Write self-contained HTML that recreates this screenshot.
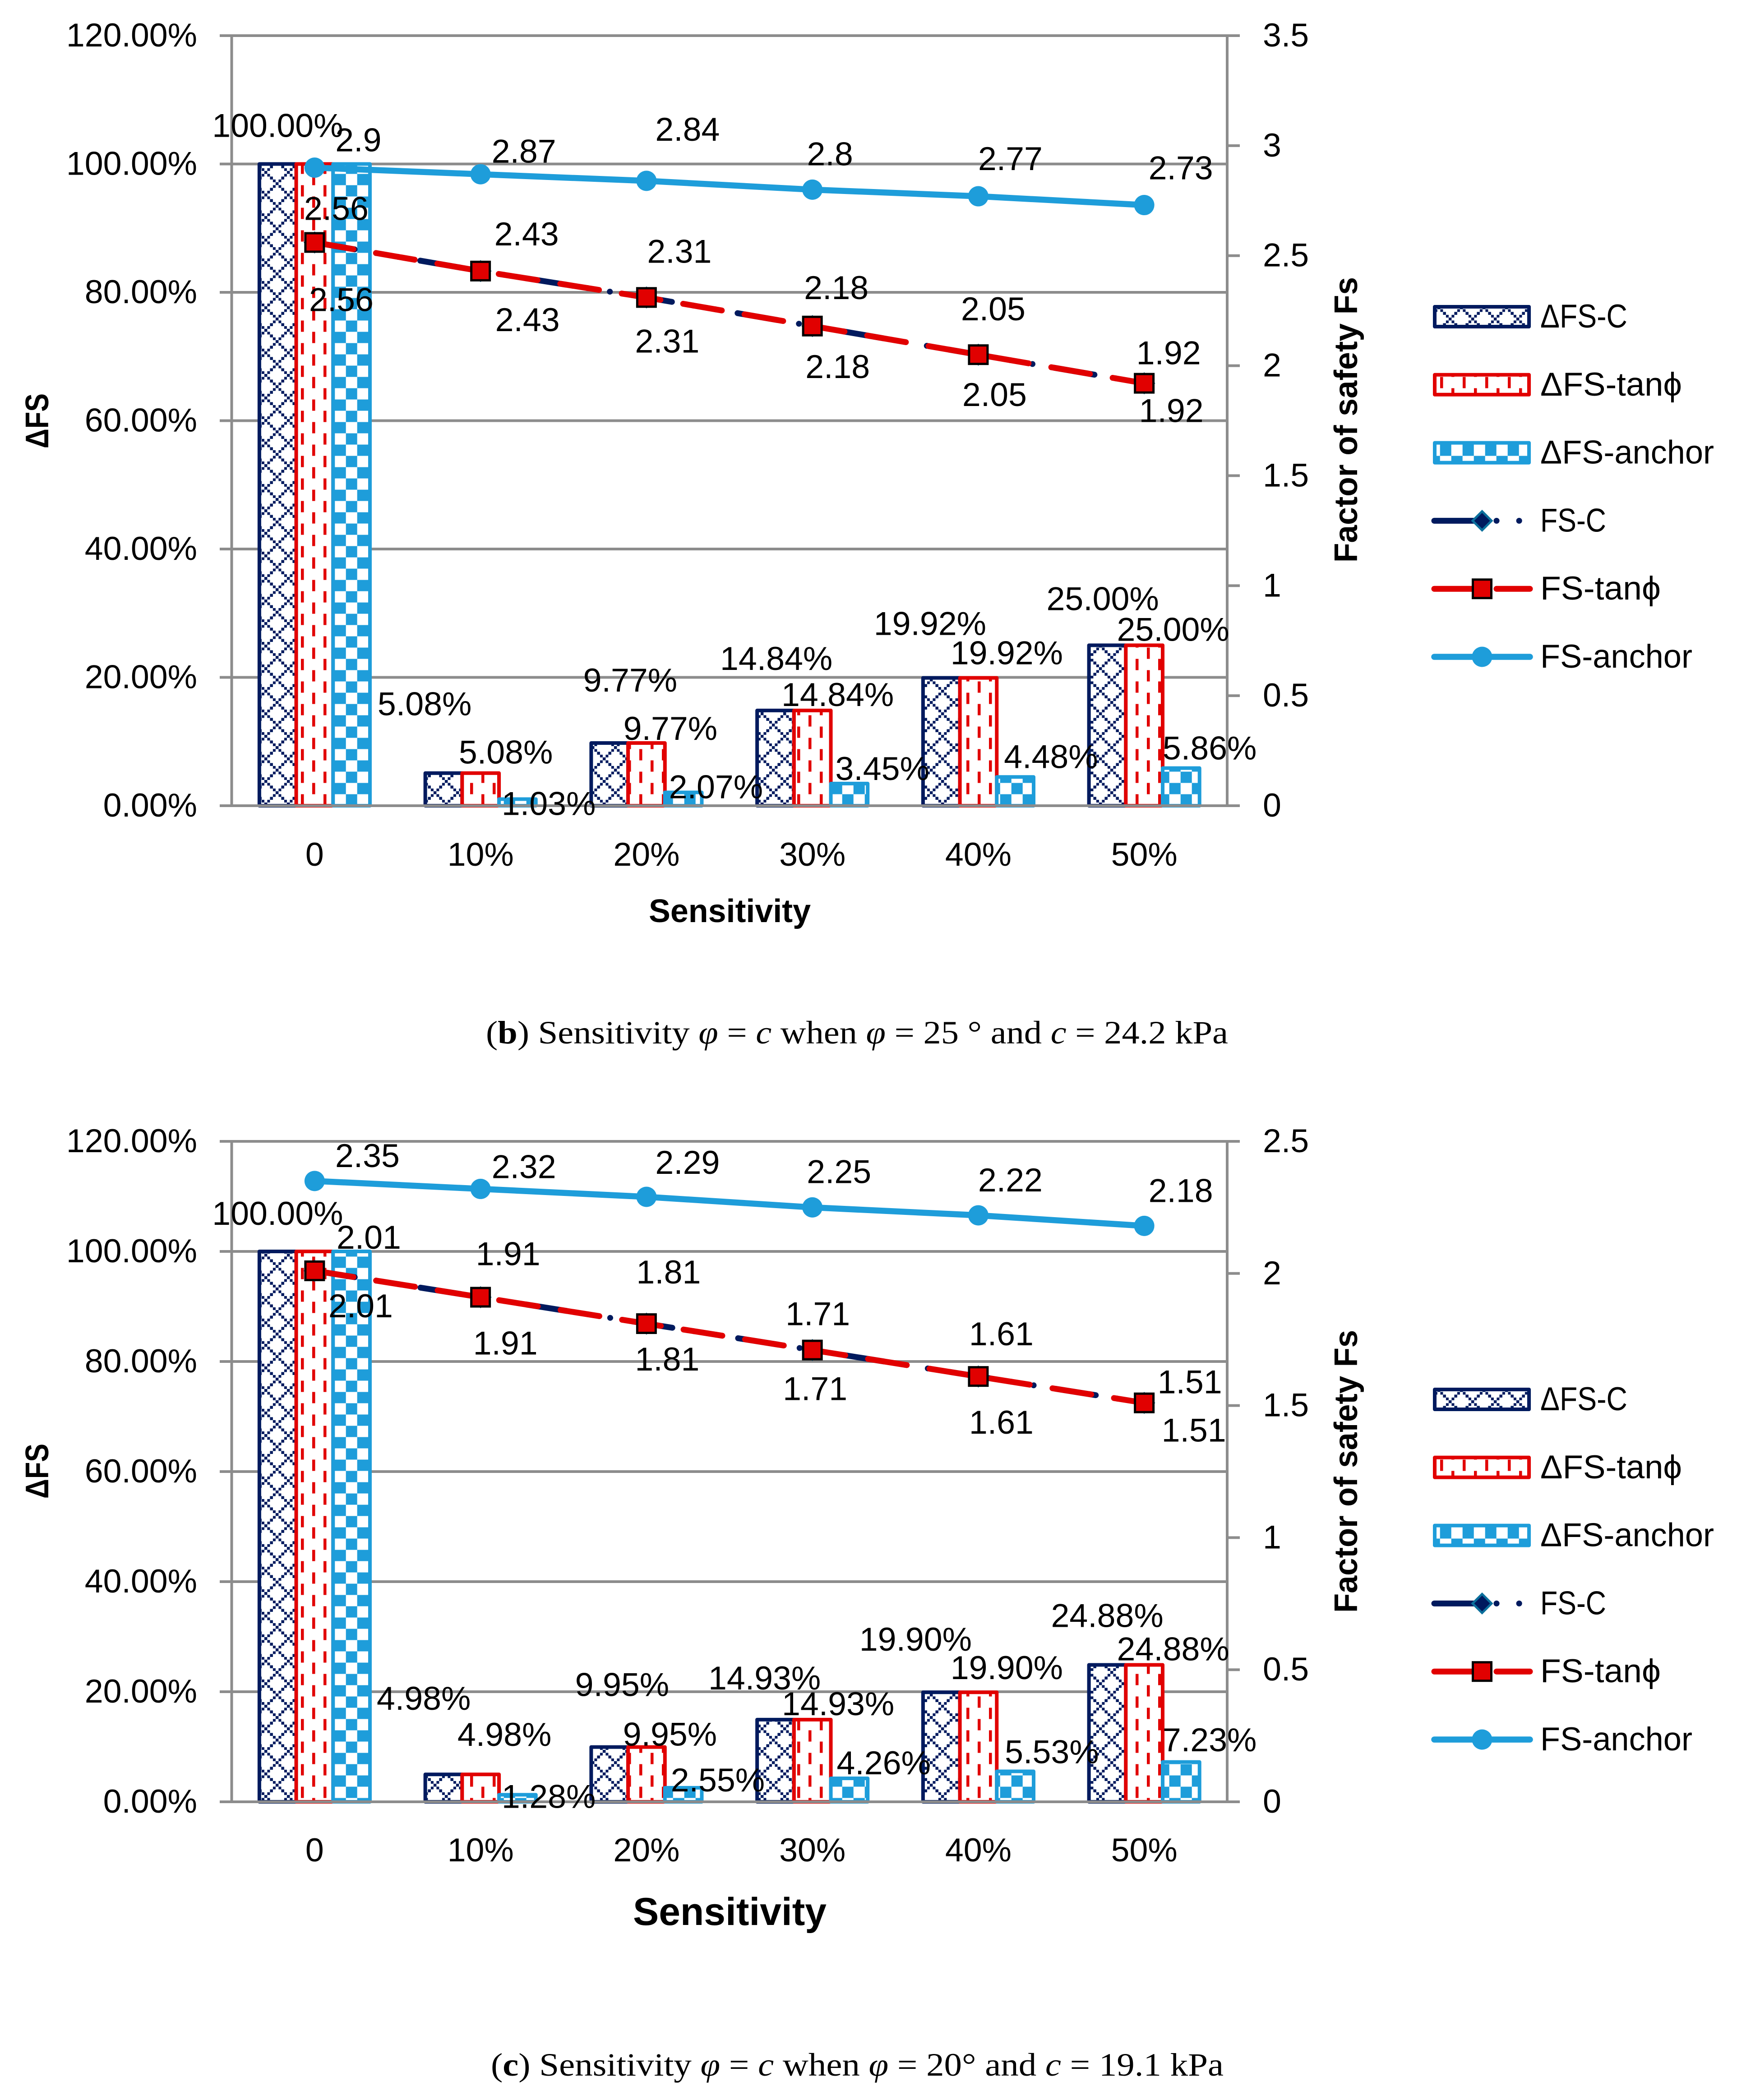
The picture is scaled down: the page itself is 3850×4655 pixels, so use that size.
<!DOCTYPE html>
<html lang="en">
<head>
<meta charset="utf-8">
<title>Sensitivity charts</title>
<style>
html,body{margin:0;padding:0;background:#fff;}
svg{display:block;}
text{font-family:"Liberation Sans",sans-serif;fill:#000;}
.cap{font-family:"Liberation Serif",serif;}
</style>
</head>
<body>
<svg id="figure" xmlns="http://www.w3.org/2000/svg" width="3850" height="4655" viewBox="0 0 3850 4655">
  <defs>
    <pattern id="pat-navy" patternUnits="userSpaceOnUse" width="50" height="50" patternTransform="translate(10.9 3.9)">
      <rect width="50" height="50" fill="#fff"/>
      <path shape-rendering="crispEdges" fill="#001a5e" d="M0 0h6.25v6.25h-6.25zM6.25 6.25h6.25v6.25h-6.25zM12.5 12.5h6.25v6.25h-6.25zM18.75 18.75h6.25v6.25h-6.25zM25 25h6.25v6.25h-6.25zM31.25 31.25h6.25v6.25h-6.25zM37.5 37.5h6.25v6.25h-6.25zM43.75 43.75h6.25v6.25h-6.25zM43.75 6.25h6.25v6.25h-6.25zM37.5 12.5h6.25v6.25h-6.25zM31.25 18.75h6.25v6.25h-6.25zM18.75 31.25h6.25v6.25h-6.25zM12.5 37.5h6.25v6.25h-6.25zM6.25 43.75h6.25v6.25h-6.25z"/>
    </pattern>
    <pattern id="pat-red" patternUnits="userSpaceOnUse" width="50" height="50" patternTransform="translate(17 10.5)">
      <rect width="50" height="50" fill="#fff"/>
      <rect shape-rendering="crispEdges" x="0" y="0" width="6.25" height="25" fill="#e10000"/>
      <rect shape-rendering="crispEdges" x="25" y="25" width="6.25" height="25" fill="#e10000"/>
    </pattern>
    <pattern id="pat-blue" patternUnits="userSpaceOnUse" width="50" height="50" patternTransform="translate(41.7 10.5)">
      <rect width="50" height="50" fill="#1e9dda"/>
      <rect shape-rendering="crispEdges" x="0" y="0" width="25" height="25" fill="#fff"/>
      <rect shape-rendering="crispEdges" x="25" y="25" width="25" height="25" fill="#fff"/>
    </pattern>
  </defs>

  <g id="panel-b"></g>
  <g id="panel-c"></g>

  <text x="1438" y="2044" font-size="72" font-weight="bold" textLength="359" lengthAdjust="spacingAndGlyphs">Sensitivity</text>
  <text transform="translate(107 994) rotate(-90)" font-size="72" font-weight="bold" textLength="122" lengthAdjust="spacingAndGlyphs">ΔFS</text>
  <text transform="translate(3008 1247) rotate(-90)" font-size="72" font-weight="bold" textLength="633" lengthAdjust="spacingAndGlyphs">Factor of safety Fs</text>
  <text class="cap" x="1077" y="2313" font-size="72" textLength="1645" lengthAdjust="spacingAndGlyphs">(<tspan font-weight="bold">b</tspan>) Sensitivity <tspan font-style="italic">φ</tspan> = <tspan font-style="italic">c</tspan> when <tspan font-style="italic">φ</tspan> = 25 ° and <tspan font-style="italic">c</tspan> = 24.2 kPa</text>

  <text x="1403" y="4267" font-size="86" font-weight="bold" textLength="429" lengthAdjust="spacingAndGlyphs">Sensitivity</text>
  <text transform="translate(107 3322) rotate(-90)" font-size="72" font-weight="bold" textLength="122" lengthAdjust="spacingAndGlyphs">ΔFS</text>
  <text transform="translate(3008 3575) rotate(-90)" font-size="72" font-weight="bold" textLength="627" lengthAdjust="spacingAndGlyphs">Factor of safety Fs</text>
  <text class="cap" x="1088" y="4601" font-size="72" textLength="1624" lengthAdjust="spacingAndGlyphs">(<tspan font-weight="bold">c</tspan>) Sensitivity <tspan font-style="italic">φ</tspan> = <tspan font-style="italic">c</tspan> when <tspan font-style="italic">φ</tspan> = 20° and <tspan font-style="italic">c</tspan> = 19.1 kPa</text>
</svg>

<script>
// ---- shared axis data ----
const categories = ['0', '10%', '20%', '30%', '40%', '50%'];
const leftTicks = [0, 20, 40, 60, 80, 100, 120];
const rightTicksB = [0, 0.5, 1, 1.5, 2, 2.5, 3, 3.5];
const rightTicksC = [0, 0.5, 1, 1.5, 2, 2.5];

// ---- chart (b) values ----
const deltaCB = [100, 5.08, 9.77, 14.84, 19.92, 25];
const deltaTanB = [100, 5.08, 9.77, 14.84, 19.92, 25];
const deltaAnchorB = [100, 1.03, 2.07, 3.45, 4.48, 5.86];
const fsCB = [2.56, 2.43, 2.31, 2.18, 2.05, 1.92];
const fsTanB = [2.56, 2.43, 2.31, 2.18, 2.05, 1.92];
const fsAnchorB = [2.9, 2.87, 2.84, 2.8, 2.77, 2.73];

// ---- chart (c) values ----
const deltaCC = [100, 4.98, 9.95, 14.93, 19.9, 24.88];
const deltaTanC = [100, 4.98, 9.95, 14.93, 19.9, 24.88];
const deltaAnchorC = [100, 1.28, 2.55, 4.26, 5.53, 7.23];
const fsCC = [2.01, 1.91, 1.81, 1.71, 1.61, 1.51];
const fsTanC = [2.01, 1.91, 1.81, 1.71, 1.61, 1.51];
const fsAnchorC = [2.35, 2.32, 2.29, 2.25, 2.22, 2.18];

// ---- label nudges relative to each mark (hand-placed labels in the source chart) ----
const nudgeB = {
  deltaC: [[-82,-84],[-124,-152],[-36,-138],[-80,-114],[-107,-119],[-92,-102]],
  deltaTan: [null,[56,-45],[53,-31],[56,-34],[63,-54],[64,-34]],
  deltaAnchor: [null,[151,11],[154,-11],[155,-32],[161,-44],[145,-43]],
  fsC: [[59,128],[104,109],[46,98],[56,91],[36,90],[60,62]],
  fsTan: [[48,-74],[102,-81],[73,-101],[53,-84],[33,-100],[54,-66]],
  fsAnchor: [[97,-60],[96,-50],[91,-113],[39,-78],[71,-82],[81,-81]]
};
const nudgeC = {
  deltaC: [[-82,-83],[-126,-167],[-54,-137],[-106,-91],[-139,-116],[-82,-108]],
  deltaTan: [null,[53,-87],[52,-27],[57,-34],[63,-53],[64,-34]],
  deltaAnchor: [null,[151,5],[158,-16],[158,-33],[163,-42],[145,-48]],
  fsC: [[102,79],[55,103],[46,80],[6,87],[51,103],[110,62]],
  fsTan: [[120,-73],[61,-95],[49,-113],[12,-79],[51,-93],[101,-45]],
  fsAnchor: [[117,-55],[96,-48],[91,-75],[59,-78],[71,-77],[81,-77]]
};

const legendLabels = ['ΔFS-C', 'ΔFS-tanϕ', 'ΔFS-anchor', 'FS-C', 'FS-tanϕ', 'FS-anchor'];

const NS = 'http://www.w3.org/2000/svg';
const NAVY = '#001a5e', RED = '#e10000', BLUE = '#1e9dda', GREY = '#8c8c8c', TEAL = '#0b6f9c';
const DASH_NAVY = '90 48 0.1 50 0.1 49.4';
const DASH_RED = '87 51';
const PLOT_L = 513.5, PLOT_R = 2720, TICK_L = 487, TICK_R = 2748;
const STEP = (PLOT_R - PLOT_L) / categories.length;
const FONT = 73.5;

function mk(parent, tag, attrs, txt) {
  const e = document.createElementNS(NS, tag);
  for (const k in attrs) e.setAttribute(k, attrs[k]);
  if (txt !== undefined) e.textContent = txt;
  parent.appendChild(e);
  return e;
}
function hline(parent, y, x1, x2) {
  return mk(parent, 'line', {x1: x1, x2: x2, y1: y, y2: y, stroke: GREY, 'stroke-width': 6});
}
function diamond(parent, x, y) {
  return mk(parent, 'polygon', {points: [x, y - 21, x + 21, y, x, y + 21, x - 21, y].join(','), fill: NAVY, stroke: TEAL, 'stroke-width': 5});
}
function square(parent, x, y) {
  return mk(parent, 'rect', {x: x - 20.5, y: y - 20.5, width: 41, height: 41, fill: RED, stroke: '#000', 'stroke-width': 5});
}

function drawPanel(host, p) {
  const xCat = i => PLOT_L + (i + 0.5) * STEP;
  const yL = v => p.bottom - v / p.leftMax * (p.bottom - p.top);
  const yR = v => p.bottom - v / p.rightMax * (p.bottom - p.top);

  // gridlines + left labels
  leftTicks.forEach(v => {
    if (v > 0) {
      const g = hline(host, yL(v), TICK_L, PLOT_R);
      
      
    }
    const t = mk(host, 'text', {x: 437, y: yL(v) + 24, 'font-size': FONT, 'text-anchor': 'end'}, v.toFixed(2) + '%');
    
    
  });
  // right ticks + labels
  p.rightTicks.forEach(v => {
    if (v > 0) {
      const g = hline(host, yR(v), PLOT_R, TICK_R);
      
      
    }
    const t = mk(host, 'text', {x: 2799, y: yR(v) + 24, 'font-size': FONT}, String(v));
    
    
  });
  // vertical axes
  const axL = mk(host, 'line', {x1: PLOT_L, x2: PLOT_L, y1: p.top - 3, y2: p.bottom, stroke: GREY, 'stroke-width': 6});
  
  
  const axR = mk(host, 'line', {x1: PLOT_R, x2: PLOT_R, y1: p.top - 3, y2: p.bottom, stroke: GREY, 'stroke-width': 6});
  
  

  // bars
  const BW = 81.7;
  const barDefs = [
    {vals: p.deltaC, off: -122.5, fill: 'url(#pat-navy)', stroke: NAVY},
    {vals: p.deltaTan, off: -40.8, fill: 'url(#pat-red)', stroke: RED},
    {vals: p.deltaAnchor, off: 40.9, fill: 'url(#pat-blue)', stroke: BLUE}
  ];
  barDefs.forEach(b => {
    b.vals.forEach((v, i) => {
      const r = mk(host, 'rect', {x: xCat(i) + b.off, y: yL(v), width: BW, height: p.bottom - yL(v), fill: b.fill, stroke: b.stroke, 'stroke-width': 8, 'stroke-linejoin': 'round'});
      
      
    });
  });

  // x axis on top of bars
  const axX = hline(host, p.bottom, TICK_L, TICK_R);
  
  

  categories.forEach((c, i) => {
    const t = mk(host, 'text', {x: xCat(i), y: p.catBaseline, 'font-size': FONT, 'text-anchor': 'middle'}, c);
    
    
  });

  // lines
  const pts = vals => vals.map((v, i) => xCat(i) + ',' + yR(v)).join(' ');
  const lineC = mk(host, 'polyline', {points: pts(p.fsC), fill: 'none', stroke: NAVY, 'stroke-width': 13, 'stroke-linecap': 'round', 'stroke-linejoin': 'round', 'stroke-dasharray': DASH_NAVY});
  
  
  p.fsC.forEach((v, i) => {
    const m = diamond(host, xCat(i), yR(v));
    
    
  });
  const lineT = mk(host, 'polyline', {points: pts(p.fsTan), fill: 'none', stroke: RED, 'stroke-width': 13, 'stroke-linecap': 'round', 'stroke-linejoin': 'round', 'stroke-dasharray': DASH_RED});
  
  
  p.fsTan.forEach((v, i) => {
    const m = square(host, xCat(i), yR(v));
    
    
  });
  const lineA = mk(host, 'polyline', {points: pts(p.fsAnchor), fill: 'none', stroke: BLUE, 'stroke-width': 13.5, 'stroke-linecap': 'round', 'stroke-linejoin': 'round'});
  
  
  p.fsAnchor.forEach((v, i) => {
    const m = mk(host, 'circle', {cx: xCat(i), cy: yR(v), r: 22.5, fill: BLUE});
    
    
  });

  // data labels
  const labelGroups = [
    {vals: p.deltaC, n: p.nudge.deltaC, y: yL, fmt: v => v.toFixed(2) + '%'},
    {vals: p.deltaTan, n: p.nudge.deltaTan, y: yL, fmt: v => v.toFixed(2) + '%'},
    {vals: p.deltaAnchor, n: p.nudge.deltaAnchor, y: yL, fmt: v => v.toFixed(2) + '%'},
    {vals: p.fsC, n: p.nudge.fsC, y: yR, fmt: v => String(v)},
    {vals: p.fsTan, n: p.nudge.fsTan, y: yR, fmt: v => String(v)},
    {vals: p.fsAnchor, n: p.nudge.fsAnchor, y: yR, fmt: v => String(v)}
  ];
  labelGroups.forEach(g => {
    g.vals.forEach((v, i) => {
      if (!g.n[i]) return;
      const t = mk(host, 'text', {x: xCat(i) + g.n[i][0], y: g.y(v) + g.n[i][1] + 24, 'font-size': FONT, 'text-anchor': 'middle'}, g.fmt(v));
      
      
    });
  });

  // legend
  const rowH = 150.8;
  const fills = [['url(#pat-navy)', NAVY], ['url(#pat-red)', RED], ['url(#pat-blue)', BLUE]];
  const widths = [193, 314, 385, 146, 267, 337];
  legendLabels.forEach((lab, i) => {
    const cy = p.legendTop + i * rowH;
    if (i < 3) {
      const s = mk(host, 'rect', {x: 3180, y: cy - 22, width: 209, height: 44, fill: fills[i][0], stroke: fills[i][1], 'stroke-width': 8, 'stroke-linejoin': 'round'});
      
      
    } else if (i === 3) {
      const l = mk(host, 'line', {x1: 3179, x2: 3391, y1: cy, y2: cy, stroke: NAVY, 'stroke-width': 13, 'stroke-linecap': 'round', 'stroke-dasharray': DASH_NAVY});
      
      
      const m = diamond(host, 3285, cy);
      
      
    } else if (i === 4) {
      const l = mk(host, 'line', {x1: 3179, x2: 3391, y1: cy, y2: cy, stroke: RED, 'stroke-width': 13, 'stroke-linecap': 'round', 'stroke-dasharray': DASH_RED});
      
      
      const m = square(host, 3285, cy);
      
      
    } else {
      const l = mk(host, 'line', {x1: 3179, x2: 3391, y1: cy, y2: cy, stroke: BLUE, 'stroke-width': 13.5, 'stroke-linecap': 'round'});
      
      
      const m = mk(host, 'circle', {cx: 3285, cy: cy, r: 22.5, fill: BLUE});
      
      
    }
    const t = mk(host, 'text', {x: i < 3 ? 3414 : 3414, y: cy + 24, 'font-size': FONT, textLength: widths[i], lengthAdjust: 'spacingAndGlyphs'}, lab);
    
    
  });
}

drawPanel(document.getElementById('panel-b'), {
  top: 79, bottom: 1786, leftMax: 120, rightMax: 3.5, rightTicks: rightTicksB,
  catBaseline: 1919, legendTop: 702, nudge: nudgeB,
  deltaC: deltaCB, deltaTan: deltaTanB, deltaAnchor: deltaAnchorB,
  fsC: fsCB, fsTan: fsTanB, fsAnchor: fsAnchorB
});
drawPanel(document.getElementById('panel-c'), {
  top: 2530, bottom: 3994, leftMax: 120, rightMax: 2.5, rightTicks: rightTicksC,
  catBaseline: 4126, legendTop: 3102, nudge: nudgeC,
  deltaC: deltaCC, deltaTan: deltaTanC, deltaAnchor: deltaAnchorC,
  fsC: fsCC, fsTan: fsTanC, fsAnchor: fsAnchorC
});
</script>
</body>
</html>
